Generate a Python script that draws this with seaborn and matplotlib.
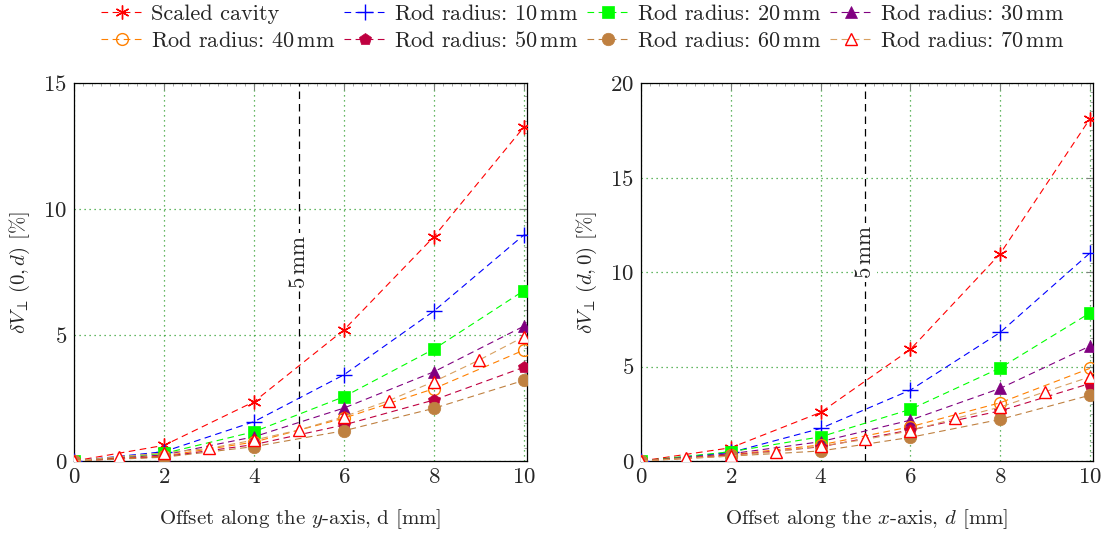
import matplotlib
matplotlib.use("Agg")
import matplotlib.pyplot as plt
import seaborn as sns
import numpy as np
from matplotlib.ticker import MultipleLocator

sns.set_theme(style="white")
plt.rcParams['font.family'] = ['cmr10', 'DejaVu Serif']
plt.rcParams['mathtext.fontset'] = 'cm'
plt.rcParams['axes.formatter.use_mathtext'] = True
plt.rcParams['font.size'] = 15

# ---- data ----
d = [0, 2, 4, 6, 8, 10]
d70 = [0, 1, 2, 3, 4, 5, 6, 7, 8, 9, 10]

labels = ["Scaled cavity", "Rod radius: 10$\\,$mm", "Rod radius: 20$\\,$mm", "Rod radius: 30$\\,$mm",
          "Rod radius: 40$\\,$mm", "Rod radius: 50$\\,$mm", "Rod radius: 60$\\,$mm", "Rod radius: 70$\\,$mm"]

# Left: dV(0, d), offset along y
y_cav = [0, 0.62, 2.35, 5.2, 8.9, 13.25]
y_r10 = [0, 0.37, 1.56, 3.42, 5.95, 8.97]
y_r20 = [0, 0.3, 1.16, 2.55, 4.44, 6.76]
y_r30 = [0, 0.24, 0.96, 2.1, 3.54, 5.35]
y_r40 = [0, 0.2, 0.75, 1.7, 2.87, 4.4]
y_r50 = [0, 0.17, 0.65, 1.43, 2.42, 3.72]
y_r60 = [0, 0.15, 0.57, 1.2, 2.09, 3.2]
y_r70 = [0, 0.17, 0.32, 0.5, 0.83, 1.23, 1.76, 2.4, 3.15, 4.0, 4.93]

# Right: dV(d, 0), offset along x
x_cav = [0, 0.7, 2.57, 5.9, 10.96, 18.1]
x_r10 = [0, 0.45, 1.72, 3.75, 6.8, 11.0]
x_r20 = [0, 0.49, 1.28, 2.73, 4.92, 7.83]
x_r30 = [0, 0.38, 1.02, 2.16, 3.84, 6.08]
x_r40 = [0, 0.33, 0.85, 1.81, 3.08, 4.9]
x_r50 = [0, 0.3, 0.75, 1.64, 2.65, 4.1]
x_r60 = [0, 0.26, 0.53, 1.25, 2.2, 3.48]
x_r70 = [0, 0.14, 0.26, 0.49, 0.79, 1.14, 1.6, 2.25, 2.85, 3.66, 4.45]

styles = [
    dict(color="#ff0000", marker=(6, 2, 0), mfc="#ff0000", mec="#ff0000", ms=10, mew=1.0),
    dict(color="#0000ff", marker="+", mfc="#0000ff", mec="#0000ff", ms=11, mew=1.0),
    dict(color="#00ff00", marker="s", mfc="#00ff00", mec="#00ff00", ms=8.5),
    dict(color="#800080", marker="^", mfc="#800080", mec="#800080", ms=8.5),
    dict(color="#ff8000", marker="o", mfc="none", mec="#ff8000", ms=8.5, mew=1.0),
    dict(color="#bf0040", marker="p", mfc="#bf0040", mec="#bf0040", ms=9),
    dict(color="#bf8040", marker="o", mfc="#bf8040", mec="#bf8040", ms=9),
    dict(color="#d8a060", marker="^", mfc="white", mec="#ff0000", ms=8.5, mew=1.0),
]

fig = plt.figure(figsize=(11.1, 5.36), dpi=100)
axL = fig.add_axes([74/1110, 75/536, 453/1110, 378/536])
axR = fig.add_axes([641/1110, 75/536, 452/1110, 378/536])

left_series = [(d, y_cav), (d, y_r10), (d, y_r20), (d, y_r30), (d, y_r40), (d, y_r50), (d, y_r60), (d70, y_r70)]
right_series = [(d, x_cav), (d, x_r10), (d, x_r20), (d, x_r30), (d, x_r40), (d, x_r50), (d, x_r60), (d70, x_r70)]

TICK_FS = 16.5
LABEL_FS = 15

def draw(ax, series, ymax, ystep, text_y, ylabel, xlabel):
    for (xs, ys), st, lab in zip(series, styles, labels):
        sns.lineplot(x=xs, y=ys, ax=ax, color=st["color"], linestyle=(0, (6, 4)), linewidth=0.8,
                     marker=st["marker"], markersize=st["ms"], markerfacecolor=st["mfc"],
                     markeredgecolor=st["mec"], markeredgewidth=st.get("mew", 0.5),
                     label=lab, legend=False, zorder=3)
    ax.axvline(5, color="black", linestyle=(0, (6, 4)), linewidth=0.9, zorder=2)
    ax.text(5, text_y, "5$\\,$mm", rotation=90, ha="center", va="center", fontsize=16.5,
            bbox=dict(facecolor="white", edgecolor="none", pad=1.5), zorder=2.5)
    ax.set_xlim(0, 10.07)
    ax.set_ylim(0, ymax)
    ax.xaxis.set_major_locator(MultipleLocator(2))
    ax.yaxis.set_major_locator(MultipleLocator(ystep))
    ax.xaxis.set_minor_locator(MultipleLocator(0.2))
    ax.yaxis.set_minor_locator(MultipleLocator(ystep / 10))
    ax.grid(True, which="major", color="#33a033", linestyle=(0, (1, 3)), linewidth=0.9)
    ax.tick_params(which="both", direction="in", top=True, right=True, color="#808080")
    ax.tick_params(which="major", length=5, width=0.8, labelsize=TICK_FS, pad=5)
    ax.tick_params(which="minor", length=2.5, width=0.5)
    for s in ax.spines.values():
        s.set_color("black")
        s.set_linewidth(0.9)
    ax.set_ylabel(ylabel, fontsize=LABEL_FS, labelpad=8)
    ax.set_xlabel(xlabel, fontsize=LABEL_FS, labelpad=14)

draw(axL, left_series, 15, 5, 7.9, "$\\delta V_{\\perp}\\,(0, d)$ [%]", "Offset along the $y$-axis, d [mm]")
draw(axR, right_series, 20, 5, 11.05, "$\\delta V_{\\perp}\\,(d, 0)$ [%]", "Offset along the $x$-axis, $d$ [mm]")

h, l = axL.get_legend_handles_labels()
order = [0, 4, 1, 5, 2, 6, 3, 7]
fig.legend([h[i] for i in order], [l[i] for i in order], loc="upper center", bbox_to_anchor=(0.525, 1.03),
           ncol=4, frameon=False, fontsize=16, handlelength=1.9, columnspacing=0.4,
           handletextpad=0.35, labelspacing=0.32)

fig.savefig("out.png", dpi=100)
